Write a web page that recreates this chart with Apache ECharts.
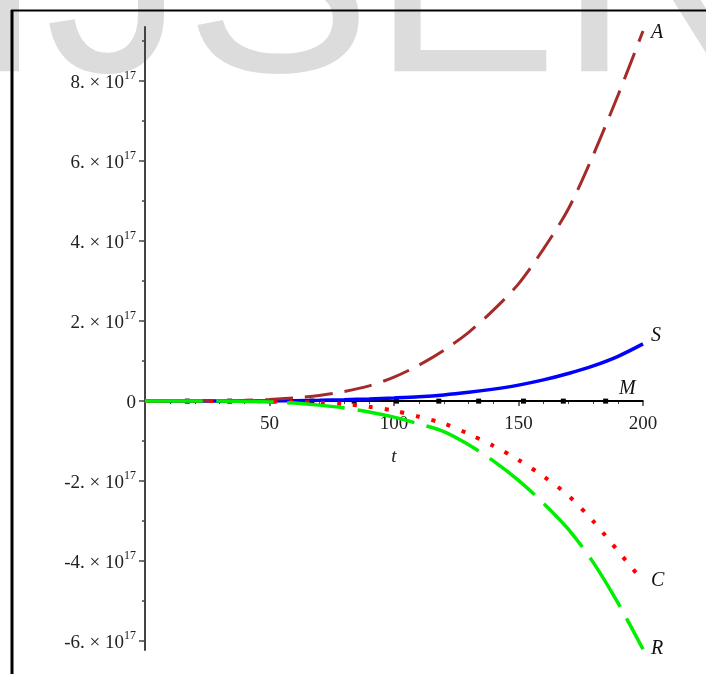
<!DOCTYPE html>
<html>
<head>
<meta charset="utf-8">
<script src="https://cdn.jsdelivr.net/npm/echarts@6/dist/echarts.min.js"></script>
<style>html,body{margin:0;padding:0;background:#fff}#c{width:706px;height:674px}</style>
</head>
<body>
<div id="c"></div>
<script>
// time samples (t)
const tVals = [0,10,20,30,40,50,60,70,80,90,100,110,120,130,140,150,160,170,180,190,200];
// values in units of 1e17
const A_e17 = [0,0,0,0.01,0.02,0.04,0.08,0.14,0.24,0.38,0.6,0.9,1.27,1.72,2.28,2.93,3.8,4.8,6.15,7.65,9.25];
const S_e17 = [0,0,0,0,0,0.005,0.01,0.02,0.035,0.055,0.08,0.11,0.155,0.22,0.3,0.4,0.53,0.69,0.88,1.12,1.43];
const C_e17 = [0,0,0,0,0,-0.01,-0.02,-0.04,-0.07,-0.14,-0.24,-0.39,-0.56,-0.82,-1.12,-1.47,-1.88,-2.36,-3.0,-3.75,-4.5];
const R_e17 = [0,0,0,0,-0.01,-0.02,-0.05,-0.1,-0.17,-0.27,-0.4,-0.57,-0.76,-1.09,-1.5,-1.98,-2.55,-3.2,-4.03,-5.05,-6.2];
// M curve samples (marker positions) - stays at 0
const mT = [0,17,34,51,67,84,101,118,134,152,168,185,200];
const M_e17 = [0,0,0,0,0,0,0,0,0,0,0,0,0];
// tick labels
const yMajor = [-6,-4,-2,0,2,4,6,8];
const yMinor = [-5,-3,-1,1,3,5,7,9];
const xTicks = [50,100,150,200];
const seriesNames = ['A','S','M','C','R'];

const Y_MIN = -6.22, Y_MAX = 9.35;
const GRID = {left:145, right:63, top:27, bottom:24};
const H = 674, plotH = H - GRID.top - GRID.bottom;
const zeroOffset = plotH * (0 - Y_MIN) / (Y_MAX - Y_MIN);

const pairs = (xs, ys) => xs.map((x,i)=>[x, ys[i]]);
const serif = 'Liberation Serif';
const axisCol = '#444';
const labFont = {fontFamily: serif, fontStyle:'italic', fontSize: 20, color:'#111'};

const chart = echarts.init(document.getElementById('c'), null, {renderer:'canvas'});
chart.setOption({
  animation:false,
  backgroundColor:'#fff',
  grid:{...GRID, containLabel:false, outerBoundsMode:'none'},
  graphic:[
    {type:'text', z:-10, silent:true, style:{x:-33, y:-6, text:'IJSER', font:'280px "Liberation Sans"', fill:'#dcdcdc', verticalAlign:'middle'}},
    {type:'line', z:100, shape:{x1:11, y1:10.5, x2:706, y2:10.5}, style:{stroke:'#000', lineWidth:2}},
    {type:'line', z:100, shape:{x1:12, y1:10, x2:12, y2:674}, style:{stroke:'#000', lineWidth:3}}
  ],
  xAxis:{
    type:'value', min:0, max:200, interval:50, position:'bottom', offset:-zeroOffset,
    axisLine:{onZero:false, lineStyle:{color:axisCol, width:2}},
    axisTick:{length:5, lineStyle:{color:axisCol, width:1.5}},
    minorTick:{show:true, splitNumber:5, length:3, lineStyle:{color:axisCol, width:1}},
    splitLine:{show:false},
    axisLabel:{formatter: v => xTicks.indexOf(v) >= 0 ? String(v) : '', fontFamily:serif, fontSize:19, color:'#222', margin:13},
    name:'t', nameLocation:'middle', nameGap:46,
    nameTextStyle:{fontFamily:serif, fontStyle:'italic', fontSize:19, color:'#222'}
  },
  yAxis:[{
    type:'value', min:Y_MIN, max:Y_MAX,
    axisLine:{show:true, onZero:false, lineStyle:{color:axisCol, width:2}},
    axisTick:{show:true, customValues:yMajor, length:6, lineStyle:{color:axisCol, width:1.5}},
    splitLine:{show:false},
    axisLabel:{
      customValues:yMajor, margin:9, color:'#222',
      formatter: v => v === 0 ? '{a|0}' : '{a|' + v + '. × 10}{s|17}',
      rich:{
        a:{fontFamily:serif, fontSize:19, color:'#222', lineHeight:22, verticalAlign:'bottom'},
        s:{fontFamily:serif, fontSize:12, color:'#222', lineHeight:22, verticalAlign:'top', padding:[0,0,7,0]}
      }
    }
  },{
    type:'value', min:Y_MIN, max:Y_MAX, position:'left',
    axisLine:{show:false, onZero:false},
    axisTick:{show:true, customValues:yMinor, length:3, lineStyle:{color:axisCol, width:1.5}},
    axisLabel:{show:false}, splitLine:{show:false}
  }],
  series:[
    {name:seriesNames[2], type:'line', data:mT.map((t,i)=>({value:[t, M_e17[i]], symbol:(i===0||i===mT.length-1)?'none':'rect'})),
     symbolSize:5, itemStyle:{color:'#000'}, lineStyle:{color:'#000', width:2}, z:3,
     endLabel:{show:true, formatter:'M', ...labFont, offset:[-32,-12]}},
    {name:seriesNames[1], type:'line', data:pairs(tVals,S_e17), smooth:0.3, showSymbol:false,
     lineStyle:{color:'#0000ff', width:3.5}, z:4,
     endLabel:{show:true, formatter:'S', ...labFont, offset:[0,-8]}},
    {name:seriesNames[0], type:'line', data:pairs(tVals,A_e17), smooth:0.3, showSymbol:false,
     lineStyle:{color:'#a52a2a', width:3, type:[28,12]}, z:4,
     endLabel:{show:true, formatter:'A', ...labFont, offset:[0,2]}},
    {name:seriesNames[3], type:'line', data:pairs(tVals,C_e17), smooth:0.3, showSymbol:false,
     lineStyle:{color:'#ff0000', width:4, type:[4,12]}, z:5,
     endLabel:{show:true, formatter:'C', ...labFont}},
    {name:seriesNames[4], type:'line', data:pairs(tVals,R_e17), smooth:0.3, showSymbol:false,
     lineStyle:{color:'#00ee00', width:3.5, type:[58,13]}, z:6,
     endLabel:{show:true, formatter:'R', ...labFont}}
  ]
});
</script>
</body>
</html>
